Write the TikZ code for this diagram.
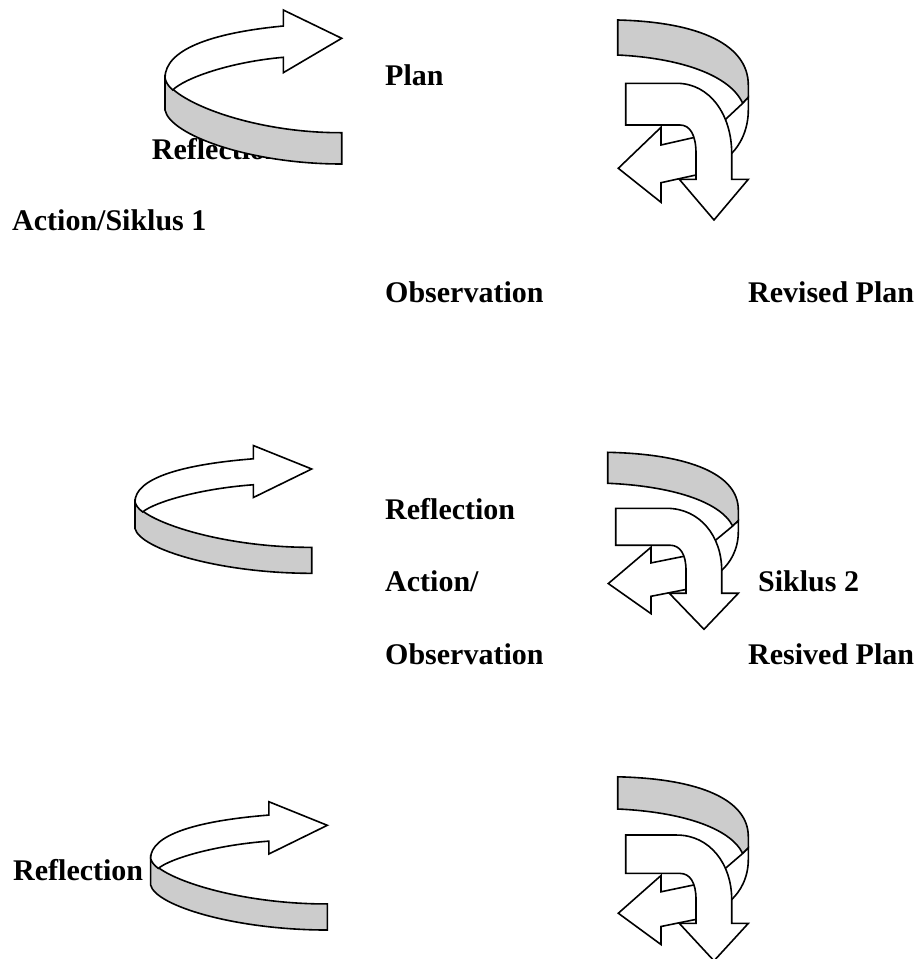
\documentclass[tikz,border=0pt]{standalone}
\usepackage{fontspec}
\setmainfont{Liberation Serif}
\definecolor{bandgray}{RGB}{204,204,204}
\tikzset{
  outl/.style={draw=black, line width=1.6pt, line join=miter},
  whitepart/.style={outl, fill=white},
  graypart/.style={outl, fill=bandgray},
  lbl/.style={anchor=base west, inner sep=0pt, font=\fontsize{30}{32}\selectfont\bfseries}
}
\newcommand{\leftcurl}{%
  \path[graypart] (165,78) -- (165,110) .. controls (170,135) and (250,164) .. (341.7,164)
     -- (341.7,132.7) .. controls (250,133) and (170,100) .. (165,78) -- cycle;
  \path[whitepart] (341.7,38.3) -- (283.3,10) -- (283.3,26)
     .. controls (210,33) and (165,50) .. (165,78)
     .. controls (166,82) and (168,86) .. (172.7,90)
     .. controls (185,78) and (230,62) .. (283.3,57.3)
     -- (283.3,72.7) -- cycle;
}
\newcommand{\rightcurl}{%
  \path[graypart] (617.7,20) .. controls (700,22) and (748.3,45) .. (748.3,85)
     -- (748.3,97.3) -- (742.7,103.3)
     .. controls (730,75) and (680,58) .. (617.7,55) -- cycle;
  \path[whitepart] (742.7,103.3) -- (748.3,97.3) -- (748.3,110)
     .. controls (748.3,130) and (740,145) .. (731.7,153.3)
     -- (715,150) -- (712,132) -- cycle;
  \path[whitepart] (618.3,168.3) -- (661,127.3) -- (661,145) -- (705,135)
     -- (705,173) -- (661,182.7) -- (661,202.3) -- cycle;
  \path[whitepart] (625.7,83.3) -- (676.7,83.3)
     .. controls (710,83.3) and (731.7,115) .. (731.7,153.3)
     -- (731.7,179.3) -- (748.3,179.3) -- (714,220) -- (679.3,179.3)
     -- (696,179.3) -- (696,153.3)
     .. controls (696,135) and (690,125) .. (680,125)
     -- (625.7,125) -- cycle;
}
\begin{document}
\begin{tikzpicture}[x=1pt, y=-1pt]
\useasboundingbox (0,0) rectangle (923,959);
\clip (0,0) rectangle (923,959);
\fill[white] (0,0) rectangle (923,959);
% texts
\node[lbl] (plan) at (385,85) {Plan};
\node[lbl] (refl1) at (151.7,159) {Reflection};
\node[lbl] (act1) at (12,230) {Action/Siklus 1};
\node[lbl] (obs1) at (385,302) {Observation};
\node[lbl] (rev1) at (748,302) {Revised Plan};
\node[lbl] (refl2) at (385,519) {Reflection};
\node[lbl] (act2) at (385,591) {Action/};
\node[lbl] (sik2) at (758,591) {Siklus 2};
\node[lbl] (obs2) at (385,664) {Observation};
\node[lbl] (rev2) at (748,664) {Resived Plan};
\node[lbl] (refl3) at (13,880) {Reflection};
% group 1
\begin{scope}\leftcurl\end{scope}
\begin{scope}\rightcurl\end{scope}
% group 2
\begin{scope}[shift={(-30,437.2)}, yscale=0.83]\leftcurl\end{scope}
\begin{scope}[shift={(-10,434.6)}, yscale=0.885]\rightcurl\end{scope}
% group 3
\begin{scope}[shift={(-14.4,793.4)}, yscale=0.833]\leftcurl\end{scope}
\begin{scope}[shift={(0,758.4)}, yscale=0.92]\rightcurl\end{scope}
\end{tikzpicture}
\end{document}
